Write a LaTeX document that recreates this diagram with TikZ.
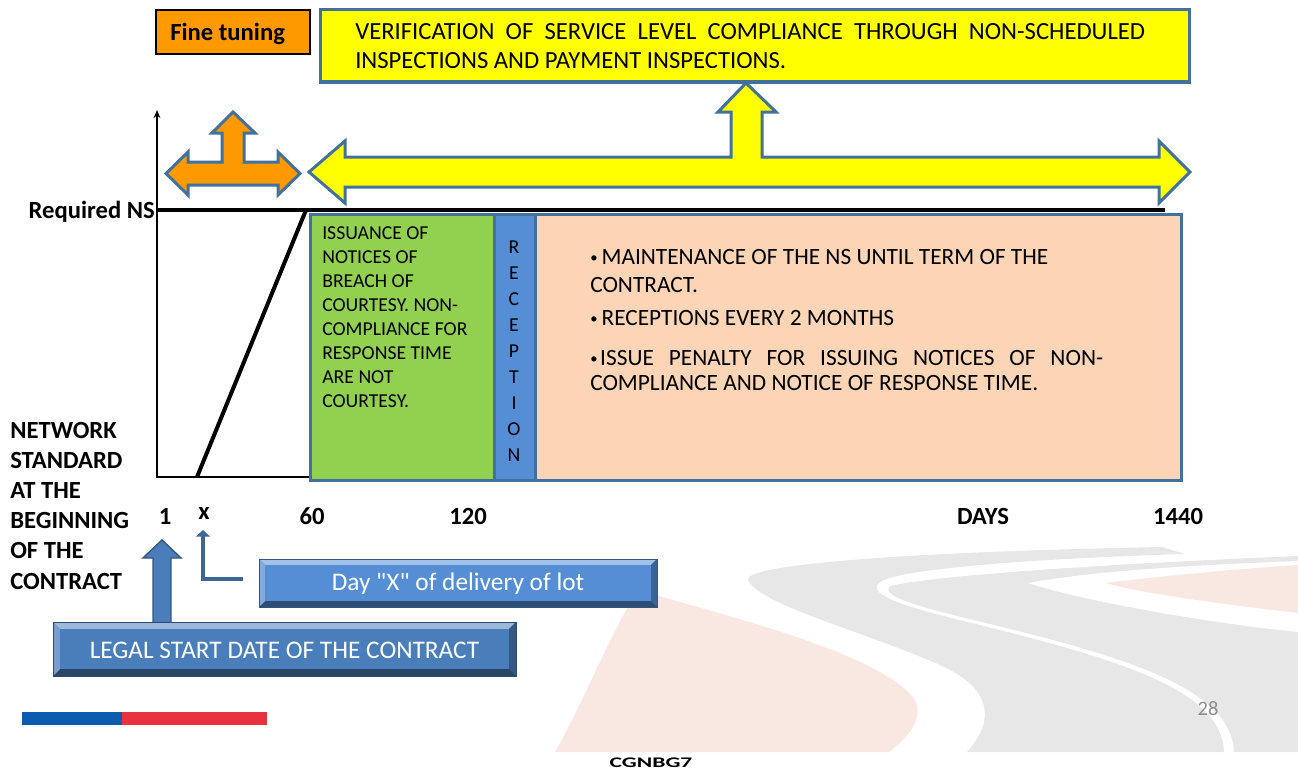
\documentclass[tikz,border=0pt]{standalone}
\usepackage{fontspec}
\setmainfont{Carlito}
\newfontfamily\rawcarlito{Carlito}[Ligatures=TeXOff]
\usetikzlibrary{arrows.meta}

\definecolor{edgeblue}{HTML}{41719C}
\definecolor{grnfill}{HTML}{92D050}
\definecolor{recfill}{HTML}{558ED5}
\definecolor{peachfill}{HTML}{FBD5B5}
\definecolor{ylwfill}{HTML}{FFFF00}
\definecolor{orgfill}{HTML}{FF9900}
\definecolor{swgray}{HTML}{E7E7E7}
\definecolor{swpeach}{HTML}{F9E8E1}
\definecolor{legalblue}{HTML}{4A7EBB}
\definecolor{dayblue}{HTML}{558ED5}
\definecolor{arrowblue}{HTML}{3D6595}
\definecolor{barblue}{HTML}{0B5BB0}
\definecolor{barred}{HTML}{E8333F}
\definecolor{pagegray}{HTML}{8C8C8C}

% bevelled panel: x1,y1,x2,y2,bevel,colour
\newcommand{\bevbox}[6]{%
  \fill[#6!55!black] (#1,#2) rectangle (#3,#4);
  \fill[#6!55!white] (#1,#2) -- (#3,#2) -- ({#3-#5},{#2+#5}) -- ({#1+#5},{#2+#5}) -- cycle;
  \fill[#6!75!white] (#1,#2) -- ({#1+#5},{#2+#5}) -- ({#1+#5},{#4-#5}) -- (#1,#4) -- cycle;
  \fill[#6!70!black] (#3,#2) -- (#3,#4) -- ({#3-#5},{#4-#5}) -- ({#3-#5},{#2+#5}) -- cycle;
  \fill[#6] ({#1+#5},{#2+#5}) rectangle ({#3-#5},{#4-#5});
  \draw[#6!60!black, line width=0.75pt] (#1,#2) rectangle (#3,#4);
}
% small list bullet
\newcommand{\smbul}{\raisebox{1.6pt}{\fontsize{11}{11}\selectfont •}}

\begin{document}
\begin{tikzpicture}[x=0.75pt,y=-0.75pt,
  txt/.style={inner sep=0pt, anchor=base west},
  boldlbl/.style={txt, font=\fontsize{18.5}{22}\selectfont\bfseries},
  axislbl/.style={inner sep=0pt, anchor=base, font=\fontsize{18.5}{22}\selectfont\bfseries},
  ylwtxt/.style={txt, font=\fontsize{18.5}{22}\selectfont},
  grntxt/.style={txt, font=\fontsize{14.8}{18}\selectfont},
  rectxt/.style={inner sep=0pt, anchor=base, font=\fontsize{14.8}{18}\selectfont},
  peachtxt/.style={txt, font=\fontsize{17.5}{21}\selectfont},
  whitetxt/.style={inner sep=0pt, text=white, font=\fontsize{19}{23}\selectfont},
  panel/.style={draw=edgeblue, line width=2.25pt},
  blockarrow/.style={draw=edgeblue, line width=2.25pt, line join=miter}
]
\useasboundingbox (0,0) rectangle (1298,774);

% ---- road swoosh in the background ----
\fill[swpeach] (555,752) .. controls (590,690) and (615,620) .. (640,590)
  .. controls (700,610) and (880,650) .. (915,700)
  .. controls (925,720) and (905,740) .. (889,752) -- cycle;
\fill[swgray] (748,580) .. controls (742,565) and (900,552) .. (1162,547) -- (1185,554)
  .. controls (1050,558) and (900,568) .. (880,582)
  .. controls (865,594) and (900,606) .. (980,625)
  .. controls (1120,660) and (1222,690) .. (1224,752) -- (967,752)
  .. controls (1000,715) and (985,685) .. (940,665)
  .. controls (860,630) and (760,605) .. (748,580) -- cycle;
\fill[swgray] (890,586) .. controls (880,596) and (915,606) .. (990,624)
  .. controls (1130,658) and (1232,690) .. (1234,752) -- (1298,752) -- (1298,556)
  .. controls (1200,560) and (950,572) .. (890,586) -- cycle;
\fill[white] (1028,583) .. controls (1100,570) and (1200,565) .. (1298,561) -- (1298,632)
  .. controls (1200,622) and (1080,600) .. (1028,583) -- cycle;
\fill[swpeach] (1105,583) .. controls (1180,574) and (1250,568) .. (1298,565) -- (1298,613)
  .. controls (1230,605) and (1150,595) .. (1105,583) -- cycle;

% ---- top boxes ----
\draw[fill=orgfill, line width=1.5pt] (156,10) rectangle (310,54);
\node[boldlbl] (fine) at (170,41) {Fine tuning};

\draw[panel, fill=ylwfill] (320,10) rectangle (1189,82);
\node[ylwtxt] (ver1) at (355,40) {\makebox[592.5pt][s]{VERIFICATION OF SERVICE LEVEL COMPLIANCE THROUGH NON-SCHEDULED}};
\node[ylwtxt] (ver2) at (355,69) {INSPECTIONS AND PAYMENT INSPECTIONS.};

% ---- block arrows ----
\draw[blockarrow, fill=orgfill] (166,173.5) -- (188,152) -- (188,162) -- (222,162) -- (222,133)
  -- (212,133) -- (233,112) -- (255,133) -- (244,133) -- (244,162) -- (278,162) -- (278,152)
  -- (300,173.5) -- (278,195) -- (278,185) -- (188,185) -- (188,195) -- cycle;
\draw[blockarrow, fill=ylwfill] (309,172) -- (345,141) -- (345,157) -- (731,157) -- (731,112)
  -- (718,112) -- (746,83) -- (776,112) -- (762,112) -- (762,157) -- (1159,157) -- (1159,141)
  -- (1190,172) -- (1159,203) -- (1159,187) -- (345,187) -- (345,203) -- cycle;

% ---- axes and service level curve ----
\draw[line width=1.1pt, -{Stealth[length=6pt,width=5pt]}] (157,478) -- (157,110);
\draw[line width=1.1pt] (157,477) -- (310,477);
\draw[line width=3pt] (157,210) -- (1165,210);
\draw[line width=3pt] (197,477) -- (306,210);
\node[boldlbl, anchor=base east] (reqns) at (155,218) {Required NS};

% ---- phase panels ----
\draw[panel, fill=grnfill] (310,214) rectangle (494,480);
\draw[panel, fill=recfill] (494,214) rectangle (535,480);
\draw[panel, fill=peachfill] (535,214) rectangle (1181,480);

\foreach \t [count=\i] in {ISSUANCE OF, NOTICES OF, BREACH OF, COURTESY. NON-,
  COMPLIANCE FOR, RESPONSE TIME, ARE NOT, COURTESY.}
  \node[grntxt] (g\i) at (322,{239+24*(\i-1)}) {\t};

\foreach \c [count=\i] in {R,E,C,E,P,T,I,O,N}
  \node[rectxt] (rc\i) at (514,{253+26*(\i-1)}) {\c};

\node[peachtxt] (p1) at (590,264.5) {\smbul\hspace{3pt}MAINTENANCE OF THE NS UNTIL TERM OF THE};
\node[peachtxt] (p2) at (590,292.5) {CONTRACT.};
\node[peachtxt] (p3) at (590,325.5) {\smbul\hspace{3pt}RECEPTIONS EVERY 2 MONTHS};
\node[peachtxt] (p4) at (590,365.5) {\makebox[384.75pt][s]{\smbul\hspace{2pt}ISSUE PENALTY FOR ISSUING NOTICES OF NON-}};
\node[peachtxt] (p5) at (590,390.5) {COMPLIANCE AND NOTICE OF RESPONSE TIME.};

% ---- axis labels ----
\node[axislbl] (d1) at (165,524) {1};
\node[axislbl] (dx) at (204,519) {x};
\node[axislbl] (d60) at (312,524) {60};
\node[axislbl] (d120) at (468,524) {120};
\node[axislbl] (days) at (983,524) {DAYS};
\node[axislbl] (d1440) at (1178,524) {1440};

\foreach \t [count=\i] in {NETWORK, STANDARD, AT THE, BEGINNING, OF THE, CONTRACT}
  \node[boldlbl] (ns\i) at (10,{438+30.2*(\i-1)}) {\t};

% ---- start date and delivery day ----
\draw[fill=legalblue, draw=legalblue!70!black, line width=1.1pt]
  (153,623) -- (153,558) -- (143,558) -- (162,540) -- (181,558) -- (171,558) -- (171,623) -- cycle;
\bevbox{53}{622}{516}{676}{7}{legalblue}
\node[whitetxt] (legal) at (284.5,650) {LEGAL START DATE OF THE CONTRACT};

\bevbox{259}{559}{657}{607}{6}{dayblue}
\node[whitetxt] (day) at (458,584) {Day {\rawcarlito "X"} of delivery of lot};

\coordinate (lfoot) at (243,579);
\coordinate (xtip) at (203,530);
\draw[arrowblue, line width=3pt, line join=miter, -{Triangle[length=5pt,width=10.5pt]}] (lfoot) -| (xtip);

% ---- footer ----
\fill[barblue] (22,712) rectangle (122,725);
\fill[barred] (122,712) rectangle (267,725);
\node[inner sep=0pt, anchor=base, text=pagegray, font=\fontsize{15.4}{18}\selectfont] (page) at (1208,715) {28};
\node[inner sep=0pt, anchor=base, xscale=1.6, font=\fontsize{11}{13}\selectfont\bfseries] (code) at (651,767) {CGNBG7};
\end{tikzpicture}
\end{document}
